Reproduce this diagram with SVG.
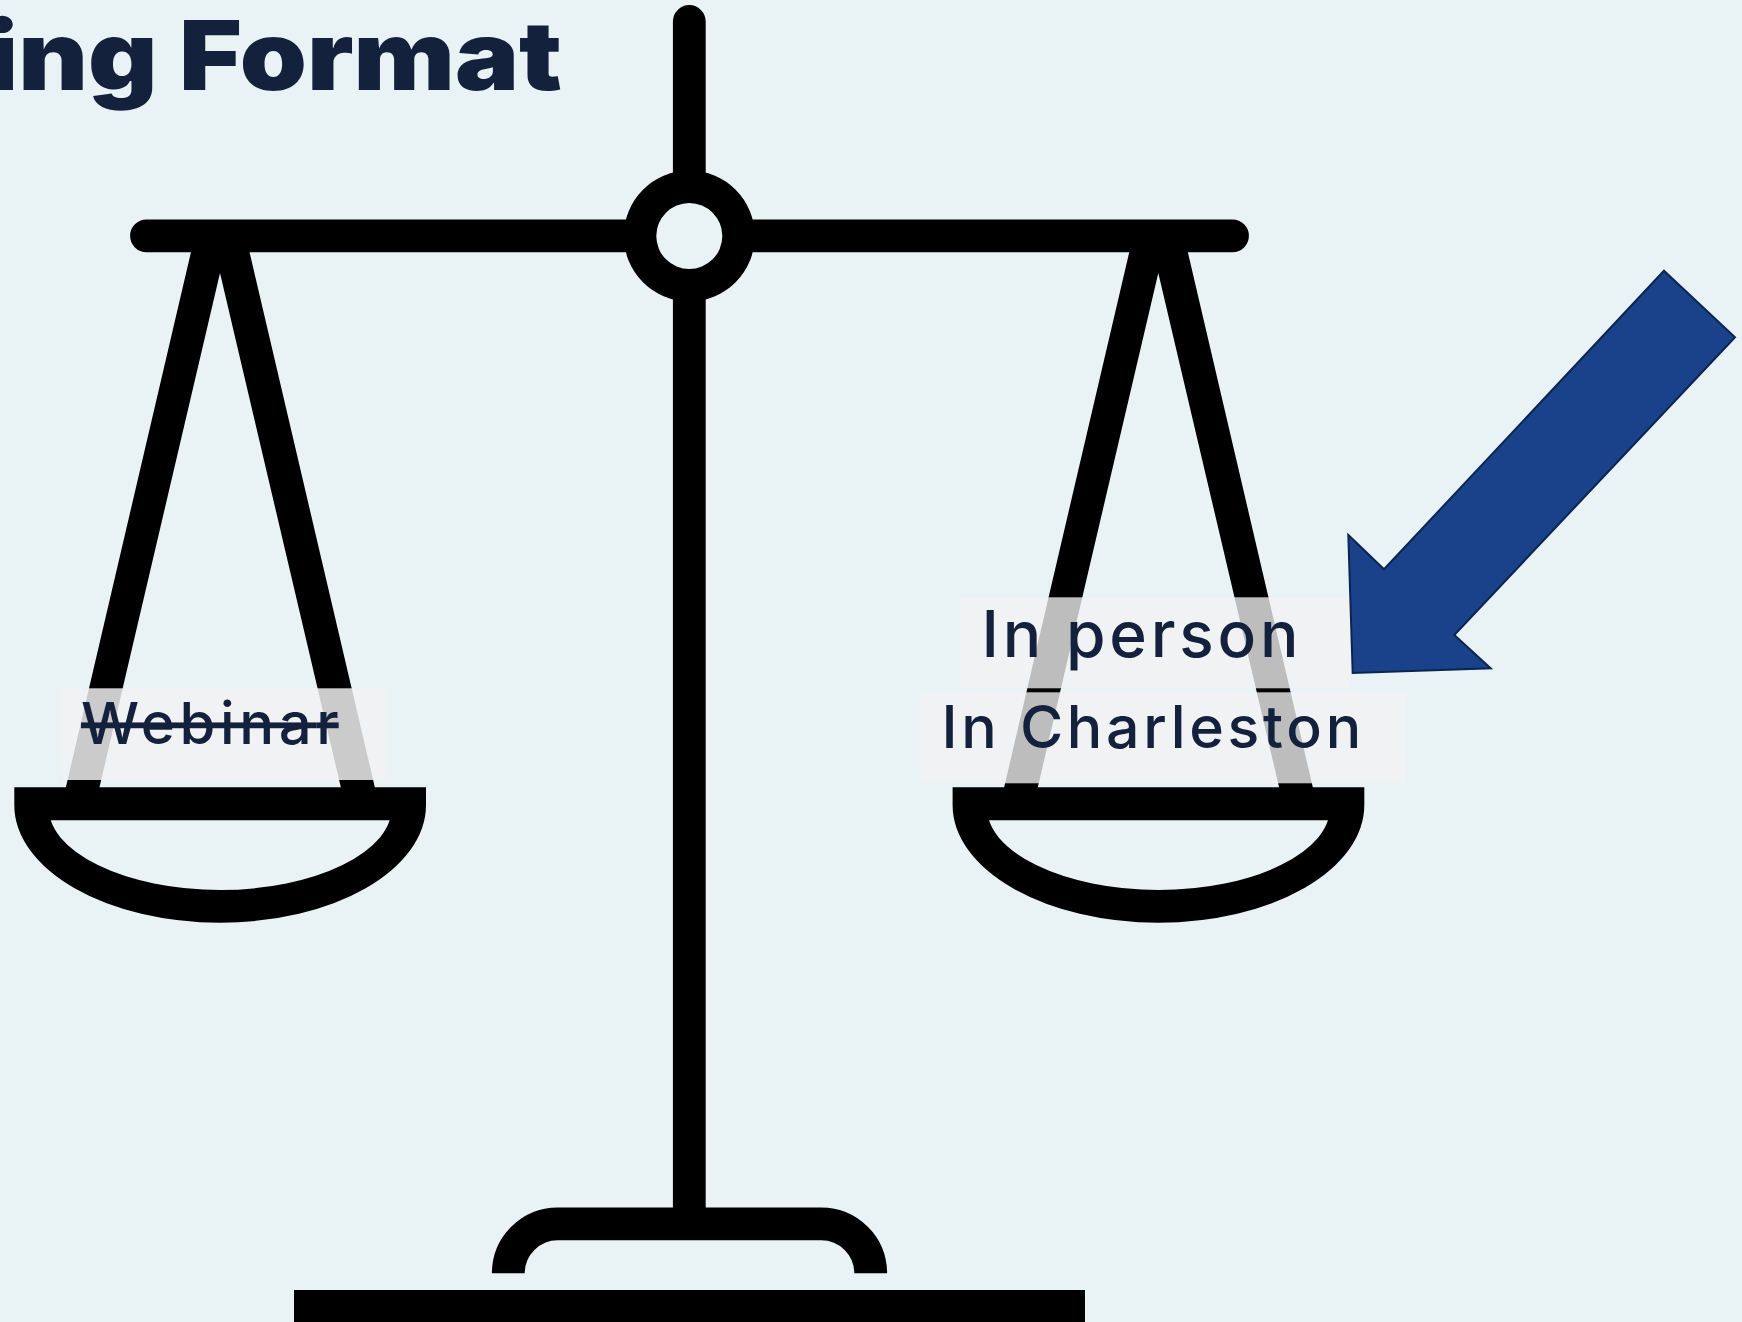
<svg xmlns="http://www.w3.org/2000/svg" width="1742" height="1322" viewBox="0 0 1742 1322">
<style>
.k{fill:#000}
.s{fill:none;stroke:#000;stroke-width:32.8}
.box{fill:#F2F2F2}
.lab{font-family:"Inter","Noto Sans",sans-serif;fill:#14213D;font-weight:500}
</style>
<rect width="1742" height="1322" fill="#E9F2F5"/>
<g id="title"><text transform="translate(562 89.5) scale(1.12 1)" text-anchor="end" font-family="Inter,'Liberation Sans',sans-serif" font-weight="900" font-size="96" fill="#14213D">ing Format</text></g>
<g id="scale">
<path class="s" stroke-linecap="round" d="M689.3 21.5V185M146.5 235.8H635M743 235.8H1232.5"/>
<path class="s" d="M689.3 285V1225M508.3 1273.3A49.5 49.5 0 0 1 522.8 1238.3A49.5 49.5 0 0 1 557.8 1223.8H821.2A49.5 49.5 0 0 1 856.2 1238.3A49.5 49.5 0 0 1 870.7 1273.3"/>
<path class="k" fill-rule="evenodd" d="M754.8 236A65.5 65.5 0 0 1 749.81 261.07A65.5 65.5 0 0 1 735.62 282.32A65.5 65.5 0 0 1 714.37 296.51A65.5 65.5 0 0 1 689.3 301.5A65.5 65.5 0 0 1 664.23 296.51A65.5 65.5 0 0 1 642.98 282.32A65.5 65.5 0 0 1 628.79 261.07A65.5 65.5 0 0 1 623.8 236A65.5 65.5 0 0 1 628.79 210.93A65.5 65.5 0 0 1 642.98 189.68A65.5 65.5 0 0 1 664.23 175.49A65.5 65.5 0 0 1 689.3 170.5A65.5 65.5 0 0 1 714.37 175.49A65.5 65.5 0 0 1 735.62 189.68A65.5 65.5 0 0 1 749.81 210.93A65.5 65.5 0 0 1 754.8 236ZM722.3 236A33 33 0 0 1 719.79 248.63A33 33 0 0 1 712.63 259.33A33 33 0 0 1 701.93 266.49A33 33 0 0 1 689.3 269A33 33 0 0 1 676.67 266.49A33 33 0 0 1 665.97 259.33A33 33 0 0 1 658.81 248.63A33 33 0 0 1 656.3 236A33 33 0 0 1 658.81 223.37A33 33 0 0 1 665.97 212.67A33 33 0 0 1 676.67 205.51A33 33 0 0 1 689.3 203A33 33 0 0 1 701.93 205.51A33 33 0 0 1 712.63 212.67A33 33 0 0 1 719.79 223.37A33 33 0 0 1 722.3 236Z"/>
<rect class="k" x="294" y="1290" width="791" height="32"/>
</g>
<g id="pan-left"><path class="k" d="M191 252L65.7 788H99.3L220 273L341 788H375L249.5 252Z"/>
<path class="k" fill-rule="evenodd" d="M14.3 787.3H426V805A205.85 117.7 0 0 1 410.35 850.04A205.85 117.7 0 0 1 365.71 888.23A205.85 117.7 0 0 1 298.93 913.74A205.85 117.7 0 0 1 220.15 922.7A205.85 117.7 0 0 1 141.37 913.74A205.85 117.7 0 0 1 74.59 888.23A205.85 117.7 0 0 1 29.95 850.04A205.85 117.7 0 0 1 14.3 805ZM50.7 820.3H389.7A173 85 0 0 1 380 837.5A173 85 0 0 1 342.5 865.1A173 85 0 0 1 286.4 883.5A173 85 0 0 1 220.2 890A173 85 0 0 1 154 883.5A173 85 0 0 1 97.9 865.1A173 85 0 0 1 60.4 837.5A173 85 0 0 1 50.7 820.3Z"/></g>
<g id="pan-right"><path class="k" d="M1129.3 252L1004 788H1037.6L1158.3 273L1279.3 788H1313L1187.8 252Z"/>
<path class="k" fill-rule="evenodd" d="M952.6 787.3H1364.3V805A205.85 117.7 0 0 1 1348.65 850.04A205.85 117.7 0 0 1 1304.01 888.23A205.85 117.7 0 0 1 1237.23 913.74A205.85 117.7 0 0 1 1158.45 922.7A205.85 117.7 0 0 1 1079.67 913.74A205.85 117.7 0 0 1 1012.89 888.23A205.85 117.7 0 0 1 968.25 850.04A205.85 117.7 0 0 1 952.6 805ZM989 820.3H1328A173 85 0 0 1 1318.3 837.5A173 85 0 0 1 1280.8 865.1A173 85 0 0 1 1224.7 883.5A173 85 0 0 1 1158.5 890A173 85 0 0 1 1092.3 883.5A173 85 0 0 1 1036.2 865.1A173 85 0 0 1 998.7 837.5A173 85 0 0 1 989 820.3Z"/></g>
<g id="webinar"><rect class="box" opacity=".84" x="61.7" y="688.3" width="324" height="91.7"/>
<text class="lab" x="81" y="744" font-size="58" letter-spacing="4.6" text-decoration="line-through">Webina<tspan letter-spacing="0">r</tspan></text></g>
<g id="in-person"><rect class="box" opacity=".78" x="960" y="597.3" width="390" height="91"/>
<text class="lab" x="981.5" y="657.3" font-size="64" letter-spacing="3.8">In person</text></g>
<g id="in-charleston"><rect class="box" opacity=".78" x="920" y="692.3" width="486" height="91"/>
<text class="lab" x="941.5" y="748.3" font-size="59" letter-spacing="3.7">In Charleston</text></g>
<g id="arrow"><path fill="#1A428A" stroke="#0B2550" stroke-width="2" d="M1664 270.7L1735 337.3L1454.3 635L1490.7 668.3L1352.7 673L1348.3 535L1384 569.3Z"/></g>
</svg>
